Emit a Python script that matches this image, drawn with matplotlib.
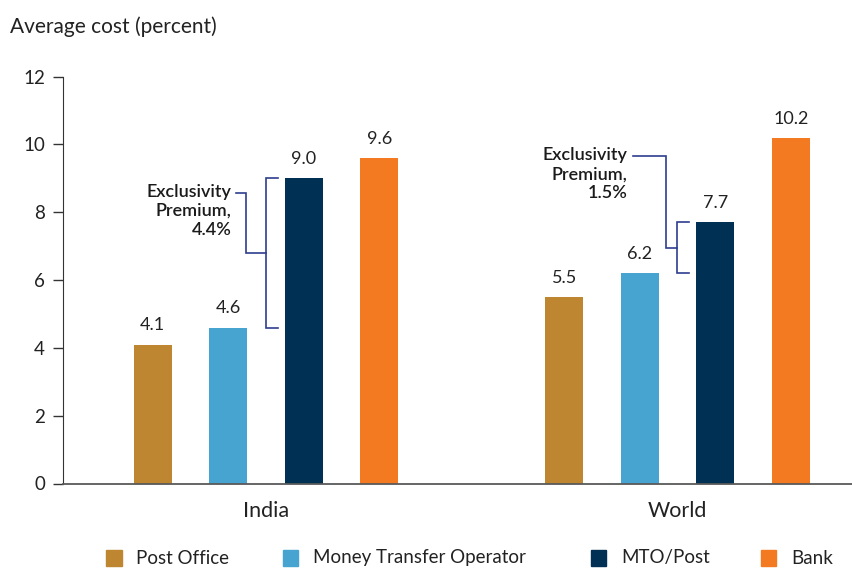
import matplotlib
matplotlib.use("Agg")
import matplotlib.pyplot as plt
from matplotlib.patches import Rectangle
import numpy as np

plt.rcParams['font.family'] = ['Lato', 'DejaVu Sans']

groups = ["India", "World"]
series = ["Post Office", "Money Transfer Operator", "MTO/Post", "Bank"]
values = {
    "Post Office": [4.1, 5.5],
    "Money Transfer Operator": [4.6, 6.2],
    "MTO/Post": [9.0, 7.7],
    "Bank": [9.6, 10.2],
}
colors = {
    "Post Office": "#BE8630",
    "Money Transfer Operator": "#47A4D0",
    "MTO/Post": "#003053",
    "Bank": "#F47A22",
}
premium_labels = ["Exclusivity\nPremium,\n4.4%", "Exclusivity\nPremium,\n1.5%"]
yticks = [0, 2, 4, 6, 8, 10, 12]

W, H = 853, 568
fig = plt.figure(figsize=(W / 100, H / 100), dpi=100)
ax = fig.add_axes([63.3 / W, 1 - 483.5 / H, 1 - 63.3 / W, (483.5 - 76.7) / H])

px = 1 / 411.4          # data units per pixel along x
step = 75.5 * px
width = 38 * px
gx = np.arange(len(groups))
offsets = (np.arange(len(series)) - 1.5) * step

for i, s in enumerate(series):
    xs = gx + offsets[i]
    ax.bar(xs, values[s], width=width, color=colors[s], zorder=2)
    for x, v in zip(xs, values[s]):
        ax.annotate(f"{v:.1f}", (x, v), xytext=(0, 8), textcoords="offset points",
                    ha="center", va="bottom", fontsize=13, color="#222222")

# exclusivity premium brackets
bcol = "#2E3D8F"
conn_off = [-19.6, -11.0]
riser_top_text = [-29.6, -44.4]
text_right = [-34.6, -49.7]
top_levels = [8.57, 9.65]
for g in range(len(groups)):
    c = gx[g]
    lo = values["Money Transfer Operator"][g]
    hi = values["MTO/Post"][g]
    bar_left = c + offsets[2] - width / 2
    tick_end = bar_left - 6.8 * px
    mid = (lo + hi) / 2
    ax.plot([tick_end, c, c, tick_end], [hi, hi, lo, lo], color=bcol, lw=1.2,
            solid_joinstyle="miter", zorder=3)
    xc = c + conn_off[g] * px
    xt = c + riser_top_text[g] * px
    top_y = top_levels[g]
    ax.plot([c, xc, xc, xt], [mid, mid, top_y, top_y], color=bcol, lw=1.2,
            solid_joinstyle="miter", zorder=3)
    ax.annotate(premium_labels[g], (c + text_right[g] * px, top_y), xytext=(0, 6.5),
                textcoords="offset points", ha="right", va="top",
                fontsize=13, fontweight="semibold", color="#1a1a1a", linespacing=1.22)

ax.set_xlim(-0.4926, 1.4265)
ax.set_ylim(0, 12)
ax.set_yticks(yticks)
ax.set_xticks(gx)
ax.set_xticklabels(groups)
ax.tick_params(axis="x", length=0, pad=12.5, labelsize=15.5, labelcolor="#222222")
ax.tick_params(axis="y", length=7.2, width=1, pad=6, labelsize=13.5,
               labelcolor="#222222", color="#333333")
for side in ["top", "right"]:
    ax.spines[side].set_visible(False)
ax.spines["left"].set_color("#333333")
ax.spines["bottom"].set_color("#595959")
ax.spines["bottom"].set_linewidth(1.3)

fig.text(10 / W, 1 - 33 / H, "Average cost (percent)", ha="left", va="baseline",
         fontsize=15, color="#222222")

# legend
leg_marker_x = [106, 282.7, 590.7, 761]
leg_text_x = [136, 312.7, 621.7, 791.7]
yc = 558
for i, s in enumerate(series):
    fig.add_artist(Rectangle((leg_marker_x[i] / W, 1 - (yc + 7.5) / H), 15.5 / W, 15.5 / H,
                             transform=fig.transFigure, color=colors[s]))
    fig.text(leg_text_x[i] / W, 1 - yc / H, s, ha="left", va="center",
             fontsize=13.5, color="#222222")

fig.savefig("out.png", dpi=100)
